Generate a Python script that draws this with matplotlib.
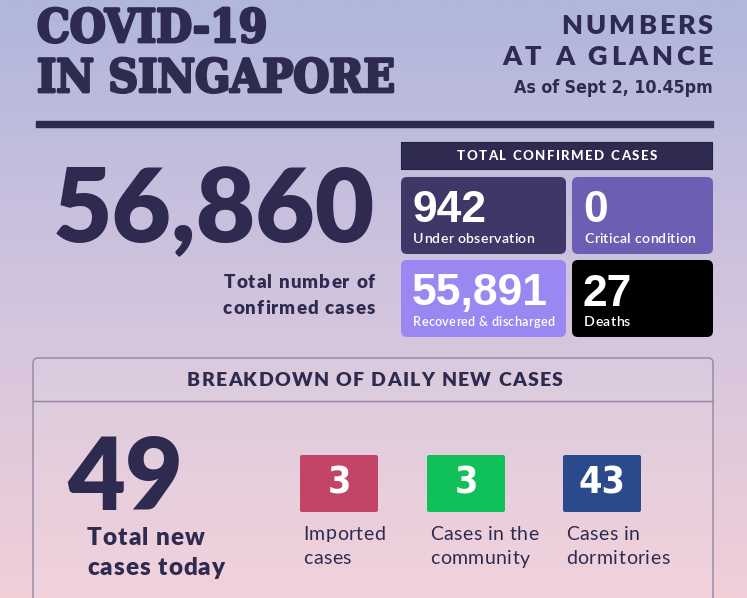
import numpy as np
import matplotlib
matplotlib.use("Agg")
import matplotlib.pyplot as plt
from matplotlib.patches import FancyBboxPatch, Rectangle
from matplotlib.font_manager import FontProperties
import matplotlib.patheffects as pe

# ---------------- data ----------------
title_lines = ["COVID-19", "IN SINGAPORE"]
subtitle_lines = ["NUMBERS", "AT A GLANCE"]
as_of = "As of Sept 2, 10.45pm"
total_confirmed = "56,860"
total_label = ["Total number of", "confirmed cases"]
banner_text = "TOTAL CONFIRMED CASES"
status_values = ["942", "0", "55,891", "27"]
status_labels = ["Under observation", "Critical condition", "Recovered & discharged", "Deaths"]
status_colors = ["#3e3767", "#6c5eb2", "#9b87f2", "#000000"]
breakdown_title = "BREAKDOWN OF DAILY NEW CASES"
new_total = "49"
new_total_label = ["Total new", "cases today"]
new_values = ["3", "3", "43"]
new_labels = [["Imported", "cases"], ["Cases in the", "community"], ["Cases in", "dormitories"]]
new_colors = ["#c24467", "#10c159", "#2a4a8c"]

NAVY = "#2e2a50"
W, H = 747, 598

fig = plt.figure(figsize=(W / 100, H / 100), dpi=100)
ax = fig.add_axes([0, 0, 1, 1])
ax.set_xlim(0, W)
ax.set_ylim(H, 0)
ax.axis("off")

# background gradient
stops_y = [0.0, 0.5, 1.0]
stops_c = np.array([[176, 182, 220], [210, 196, 222], [241, 207, 216]]) / 255
yy = np.linspace(0, 1, 300)
grad = np.stack([np.interp(yy, stops_y, stops_c[:, k]) for k in range(3)], axis=-1)[:, None, :]
ax.imshow(grad, extent=[0, W, H, 0], aspect="auto", zorder=0)

renderer = fig.canvas.get_renderer()


def tracked(x, y, s, track, fp, color, ha="left", va="center", zorder=5, effects=None):
    def w(t):
        return renderer.get_text_width_height_descent(t, fp, ismath=False)[0]
    base = w("|")
    adv = [w(s[:i] + "|") - base if i > 0 else 0 for i in range(len(s))]
    total = w(s) + track * (len(s) - 1)
    if ha == "left":
        x0 = x
    elif ha == "right":
        x0 = x - total
    else:
        x0 = x - total / 2
    for i, ch in enumerate(s):
        if ch == " ":
            continue
        t = ax.text(x0 + adv[i] + i * track, y, ch, ha="left", va=va,
                    fontproperties=fp, color=color, zorder=zorder)
        if effects:
            t.set_path_effects(effects)


# ---------------- header ----------------
fp_title = FontProperties(family=["DejaVu Serif"], weight="bold", stretch="condensed", size=33)
thick = [pe.withStroke(linewidth=2.0, foreground=NAVY)]
for yv, s in zip([29, 79], title_lines):
    t = ax.text(37, yv, s, fontproperties=fp_title, color=NAVY, ha="left", va="center")
    t.set_path_effects(thick)

fp_sub = FontProperties(family=["Lato", "DejaVu Sans"], weight="heavy", size=19.5)
tracked(713, 26, subtitle_lines[0], 3.0, fp_sub, NAVY, ha="right")
tracked(713, 57, subtitle_lines[1], 3.6, fp_sub, NAVY, ha="right")
fp_asof = FontProperties(family=["DejaVu Sans"], stretch="condensed", weight="bold", size=12.8)
ax.text(713, 88, as_of, fontproperties=fp_asof, color=NAVY, ha="right", va="center")

ax.add_patch(Rectangle((36, 121), 677, 6, color=NAVY, zorder=3))

# ---------------- total confirmed ----------------
fp_big = FontProperties(family=["Lato", "DejaVu Sans"], weight="heavy", size=74)
ax.text(214, 212, total_confirmed, fontproperties=fp_big, color=NAVY, ha="center", va="center")
fp_lab = FontProperties(family=["Lato", "DejaVu Sans"], weight="heavy", size=13.5)
tracked(375, 282, total_label[0], 1.1, fp_lab, NAVY, ha="right")
tracked(375, 308, total_label[1], 1.1, fp_lab, NAVY, ha="right")

# banner
ax.add_patch(Rectangle((401, 142), 311, 27, facecolor=NAVY, edgecolor="#222040", lw=0.8, zorder=3))
fp_ban = FontProperties(family=["Lato", "DejaVu Sans"], weight="black", size=9.5)
tracked(557, 156, banner_text, 1.5, fp_ban, "white", ha="center")

# status boxes
box_x = [401, 572, 401, 572]
box_y = [177, 177, 260, 260]
box_w = [165, 141, 165, 141]
box_h = 77
label_size = [10.2, 10.2, 9.0, 10.2]
fp_num = FontProperties(family=["Liberation Sans", "DejaVu Sans"], weight="bold", size=32)
for i in range(4):
    ax.add_patch(FancyBboxPatch((box_x[i], box_y[i]), box_w[i], box_h,
                                boxstyle="round,pad=0,rounding_size=6",
                                facecolor=status_colors[i], edgecolor="none", zorder=3))
    ax.text(box_x[i] + 11, box_y[i] + 34, status_values[i], fontproperties=fp_num,
            color="white", ha="left", va="center", zorder=5)
    fp_small = FontProperties(family=["Lato", "DejaVu Sans"], weight="semibold", size=label_size[i])
    tracked(box_x[i] + 12, box_y[i] + 62, status_labels[i], 0.3, fp_small, "white", ha="left")

# ---------------- breakdown panel ----------------
ax.add_patch(FancyBboxPatch((33, 358), 680, 280, boxstyle="round,pad=0,rounding_size=5",
                            facecolor=(1, 1, 1, 0.08), edgecolor="#8f87a3", lw=1.0, zorder=2))
ax.plot([33, 713], [401, 401], color="#8f87a3", lw=1.0, zorder=3)
fp_bh = FontProperties(family=["Lato", "DejaVu Sans"], weight="heavy", size=14)
tracked(375, 381, breakdown_title, 1.3, fp_bh, NAVY, ha="center")

fp_49 = FontProperties(family=["Lato", "DejaVu Sans"], weight="heavy", size=72)
ax.text(125, 481, new_total, fontproperties=fp_49, color=NAVY, ha="center", va="center")
fp_tn = FontProperties(family=["Lato", "DejaVu Sans"], weight="heavy", size=17.5)
tracked(87, 538, new_total_label[0], 1.0, fp_tn, NAVY, ha="left")
tracked(87, 568, new_total_label[1], 1.0, fp_tn, NAVY, ha="left")

nb_x = [300, 427, 563]
fp_nb = FontProperties(family=["DejaVu Sans"], stretch="condensed", weight="bold", size=27)
fp_nl = FontProperties(family=["Lato", "DejaVu Sans"], weight="normal", size=14)
for i in range(3):
    ax.add_patch(FancyBboxPatch((nb_x[i], 455), 78, 57, boxstyle="round,pad=0,rounding_size=2",
                                facecolor=new_colors[i], edgecolor="none", zorder=3))
    ax.text(nb_x[i] + 39, 484, new_values[i], fontproperties=fp_nb, color="white",
            ha="center", va="center", zorder=5)
    tracked(nb_x[i] + 3, 534, new_labels[i][0], 0.5, fp_nl, NAVY, ha="left")
    tracked(nb_x[i] + 3, 559, new_labels[i][1], 0.5, fp_nl, NAVY, ha="left")

fig.savefig("out.png", dpi=100)
